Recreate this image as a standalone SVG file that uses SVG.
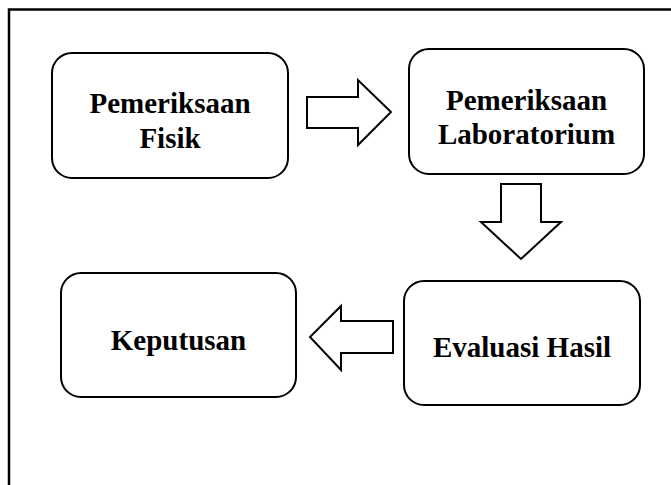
<svg xmlns="http://www.w3.org/2000/svg" width="671" height="485" viewBox="0 0 671 485">
<style>
.box{fill:#fff;stroke:#000;stroke-width:2}
.arr{fill:#fff;stroke:#000;stroke-width:2;stroke-linejoin:miter}
.t{font-family:"Liberation Serif","Times New Roman",serif;font-weight:bold;font-size:29px;fill:#000;text-anchor:middle}
</style>
<rect x="0" y="0" width="671" height="485" fill="#fff"/>
<path d="M9 485 V9.5 H671" fill="none" stroke="#000" stroke-width="2.5"/>
<g id="node-fisik">
<rect class="box" x="52" y="53" width="236" height="125" rx="20"/>
<text class="t" x="170" y="113">Pemeriksaan</text>
<text class="t" x="170" y="148">Fisik</text>
</g>
<g id="node-lab">
<rect class="box" x="409" y="49" width="235" height="125" rx="20"/>
<text class="t" x="526.5" y="110">Pemeriksaan</text>
<text class="t" x="526.5" y="144">Laboratorium</text>
</g>
<g id="node-evaluasi">
<rect class="box" x="404" y="281" width="236" height="124" rx="20"/>
<text class="t" x="522" y="357">Evaluasi Hasil</text>
</g>
<g id="node-keputusan">
<rect class="box" x="61" y="273" width="235" height="124" rx="20"/>
<text class="t" x="178.5" y="350">Keputusan</text>
</g>
<g id="connectors">
<polygon class="arr" points="307,97 358,97 358,80 391,112 358,145 358,128 307,128"/>
<polygon class="arr" points="501,184 541,184 541,222 561,222 521,259 481,222 501,222"/>
<polygon class="arr" points="393,321 341,321 341,306 310,337 341,370 341,353 393,353"/>
</g>
</svg>
